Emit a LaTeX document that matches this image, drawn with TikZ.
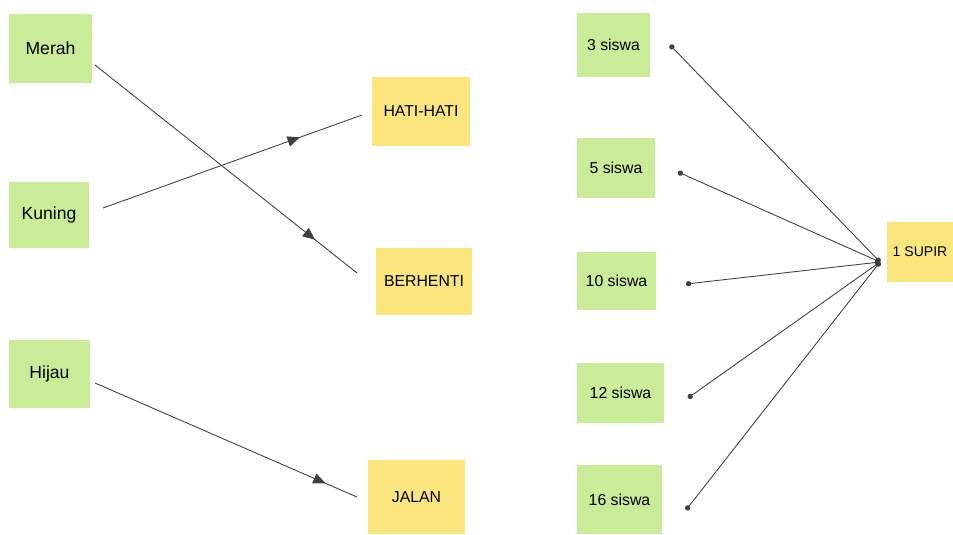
\documentclass[tikz,border=0pt]{standalone}
\usepackage{fontspec}
\setsansfont{Liberation Sans}
\usepackage{tikz}
\usetikzlibrary{positioning}
\usetikzlibrary{arrows.meta}
\usetikzlibrary{decorations.markings}
\usepackage{xcolor}

\definecolor{notegreen}{RGB}{202,236,152}
\definecolor{noteyellow}{RGB}{250,230,124}

\tikzset{
  greennote/.style={fill=notegreen, rectangle, font=\sffamily},
  yellownote/.style={fill=noteyellow, rectangle, font=\sffamily\small},
  link/.style={draw=black!75, line width=0.5pt},
  midarrow/.style={postaction={decorate, decoration={markings,
      mark=at position #1 with {\arrow{Triangle[length=7pt,width=6pt]}}}}}
}

\begin{document}
\begin{tikzpicture}
    \useasboundingbox (0,0) rectangle (19.06,-10.68);
    \clip (0,0) rectangle (19.06,-10.68);

    % Nodes for the traffic colours
    \node (merah) [greennote, minimum width=1.66cm, minimum height=1.38cm] at (1.01,-0.97) {Merah};
    \node (kuning) [greennote, minimum width=1.6cm, minimum height=1.32cm] at (0.98,-4.30) {Kuning};
    \node (hijau) [greennote, minimum width=1.62cm, minimum height=1.36cm] at (0.99,-7.48) {Hijau};

    % Nodes for the meanings
    \node (hati) [yellownote, minimum width=1.96cm, minimum height=1.38cm] at (8.42,-2.23) {HATI-HATI};
    \node (berhenti) [yellownote, minimum width=1.92cm, minimum height=1.34cm] at (8.48,-5.63) {BERHENTI};
    \node (jalan) [yellownote, minimum width=1.94cm, minimum height=1.48cm] at (8.33,-9.94) {JALAN};

    % Nodes for the students and the driver
    \node (siswa3) [greennote, font=\sffamily\small, minimum width=1.46cm, minimum height=1.28cm] at (12.27,-0.90) {3 siswa};
    \node (siswa5) [greennote, font=\sffamily\small, minimum width=1.56cm, minimum height=1.2cm] at (12.32,-3.36) {5 siswa};
    \node (siswa10) [greennote, font=\sffamily\small, minimum width=1.58cm, minimum height=1.16cm] at (12.33,-5.62) {10 siswa};
    \node (siswa12) [greennote, font=\sffamily\small, minimum width=1.74cm, minimum height=1.2cm] at (12.41,-7.86) {12 siswa};
    \node (siswa16) [greennote, font=\sffamily\small, minimum width=1.7cm, minimum height=1.38cm] at (12.39,-9.99) {16 siswa};
    \node (supir) [yellownote, font=\sffamily\footnotesize, inner sep=1pt, minimum width=1.32cm, minimum height=1.2cm] at (18.40,-5.04) {1 SUPIR};

    % Line ends
    \coordinate (merah-out) at (1.90,-1.30);
    \coordinate (berhenti-in) at (7.14,-5.46);
    \coordinate (kuning-out) at (2.06,-4.16);
    \coordinate (hati-in) at (7.24,-2.30);
    \coordinate (hijau-out) at (1.90,-7.66);
    \coordinate (jalan-in) at (7.14,-9.94);
    \coordinate (siswa3-out) at (13.40,-0.90);
    \coordinate (siswa5-out) at (13.56,-3.44);
    \coordinate (siswa10-out) at (13.72,-5.68);
    \coordinate (siswa12-out) at (13.76,-7.96);
    \coordinate (siswa16-out) at (13.72,-10.20);
    \coordinate (supir-in) at (17.60,-5.24);

    % Arrows from colour to meaning
    \draw[link, midarrow=0.84] (merah-out) -- (berhenti-in);
    \draw[link, midarrow=0.76] (kuning-out) -- (hati-in);
    \draw[link, midarrow=0.88] (hijau-out) -- (jalan-in);

    % Lines from students to the driver
    \foreach \n in {siswa3, siswa5, siswa10, siswa12, siswa16}
        \draw[link, {Circle[length=3pt]}-{Circle[length=3pt]}] (\n-out) -- (supir-in);
\end{tikzpicture}
\end{document}
